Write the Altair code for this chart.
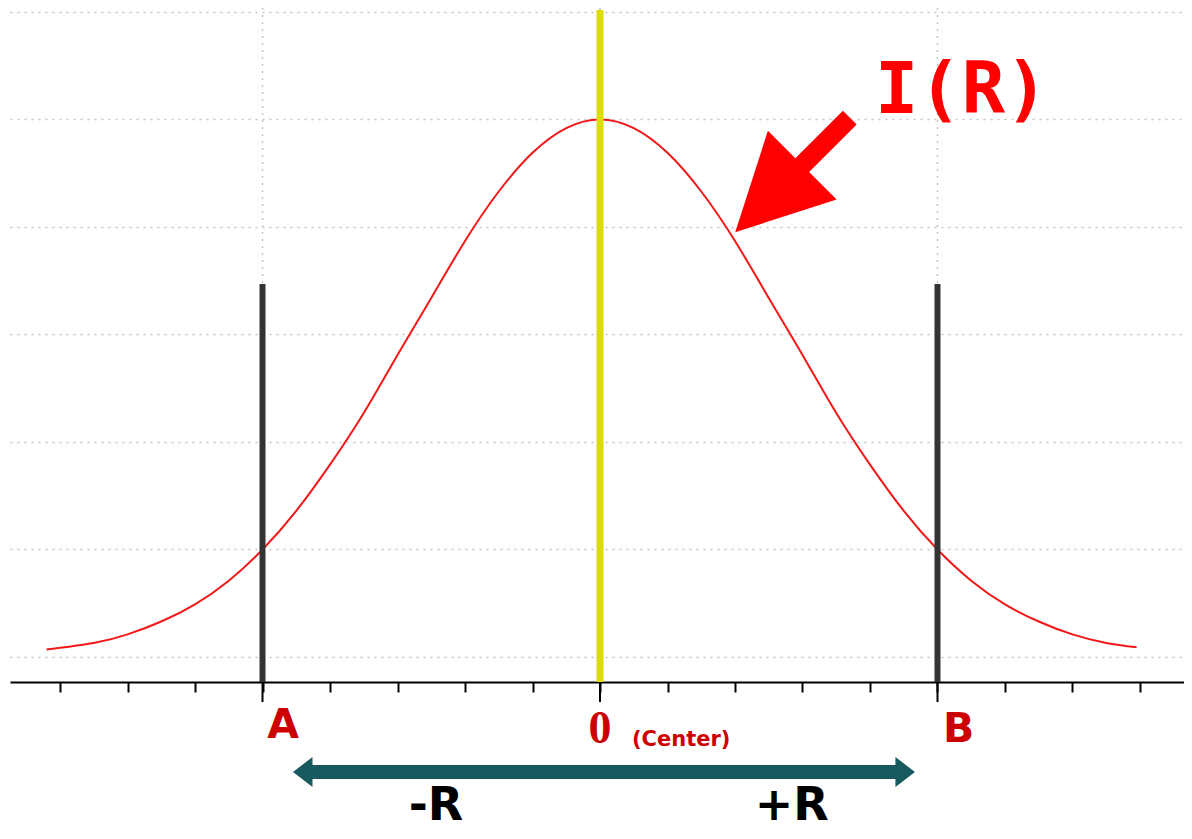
import altair as alt
import pandas as pd

# ---- data ----
curve_x = [-8.2, -7.5, -7.0, -6.5, -6.0, -5.5, -5.0, -4.5, -4.0, -3.5, -3.0, -2.5, -2.0,
           -1.5, -1.0, -0.5, 0.0, 0.5, 1.0, 1.5, 2.0, 2.5, 3.0, 3.5, 4.0, 4.5, 5.0,
           5.5, 6.0, 6.5, 7.0, 7.5, 7.95]
curve_y = [0.07, 0.13, 0.21, 0.33, 0.49, 0.71, 1.00, 1.36, 1.79, 2.27, 2.81, 3.34, 3.87,
           4.33, 4.69, 4.92, 5.00, 4.92, 4.69, 4.33, 3.87, 3.34, 2.81, 2.27, 1.79, 1.36, 1.00,
           0.71, 0.49, 0.33, 0.21, 0.13, 0.09]

tick_values = list(range(-8, 9))
major_ticks = [-5, 0, 5]
grid_y = [0, 1, 2, 3, 4, 5, 6]
bar_x = [-5, 5]
bar_top = [3.47, 3.47]

X_MIN, X_MAX = -8.741, 8.652
Y_MIN, Y_MAX = -0.2326, 6.037

W, H = 1174, 674

xs = alt.Scale(domain=[X_MIN, X_MAX], nice=False, zero=False)
ys = alt.Scale(domain=[Y_MIN, Y_MAX], nice=False, zero=False)

x_axis = alt.Axis(values=tick_values, tickSize=10, tickWidth=2, tickColor="black",
                  domainColor="black", domainWidth=2, labels=False, grid=False,
                  title=None, orient="bottom")
y_axis = alt.Axis(values=grid_y, grid=True, gridColor="#c4c4c4", gridDash=[2, 5],
                  gridWidth=1.5, labels=False, ticks=False, domain=False, title=None)


def X(field="x"):
    return alt.X(f"{field}:Q", scale=xs, axis=x_axis)


def Y(field="y"):
    return alt.Y(f"{field}:Q", scale=ys, axis=y_axis)


curve_df = pd.DataFrame({"x": curve_x, "y": curve_y})
curve = alt.Chart(curve_df).mark_line(color="#f21818", strokeWidth=2, interpolate="natural",
                                      clip=False).encode(x=X(), y=Y())

vgrid_df = pd.DataFrame({"x": major_ticks})
vgrid = alt.Chart(vgrid_df).mark_rule(color="#c4c4c4", strokeDash=[2, 5], strokeWidth=1.5).encode(x=X())

major_df = pd.DataFrame({"x": major_ticks, "y": [Y_MIN] * 3, "y2": [-0.419] * 3})
major = alt.Chart(major_df).mark_rule(color="black", strokeWidth=2, clip=False).encode(
    x=X(), y=Y(), y2="y2:Q")

bars_df = pd.DataFrame({"x": bar_x, "y": bar_top, "y2": [Y_MIN, Y_MIN]})
bars = alt.Chart(bars_df).mark_rule(color="#333333", strokeWidth=6).encode(
    x=X(), y=Y(), y2="y2:Q")

center_df = pd.DataFrame({"x": [0], "y": [6.018], "y2": [Y_MIN]})
center = alt.Chart(center_df).mark_rule(color="#dcdc00", strokeWidth=7).encode(
    x=X(), y=Y(), y2="y2:Q")

# red arrow pointing at the curve
arrow_shape = "M0,-1L0.6,0.17L0.12,0.17L0.12,1L-0.12,1L-0.12,0.17L-0.6,0.17Z"
arrow_df = pd.DataFrame({"x": [2.852], "y": [4.484]})
arrow = alt.Chart(arrow_df).mark_point(shape=arrow_shape, filled=True, size=26244, angle=225,
                                       color="#ff0000", opacity=1, strokeWidth=0).encode(
    x=X(), y=Y())

# teal double arrow
shaft_df = pd.DataFrame({"x": [-4.33], "x2": [4.44], "y": [-1.07]})
shaft = alt.Chart(shaft_df).mark_rule(color="#17595f", strokeWidth=14, clip=False).encode(
    x=X(), x2="x2:Q", y=Y())
left_head_df = pd.DataFrame({"x": [-4.326], "y": [-1.07]})
left_head = alt.Chart(left_head_df).mark_point(shape="M-1,0L0.3,-1L0.3,1Z", filled=True, size=900,
                                               color="#17595f", opacity=1, clip=False).encode(
    x=X(), y=Y())
right_head_df = pd.DataFrame({"x": [4.444], "y": [-1.07]})
right_head = alt.Chart(right_head_df).mark_point(shape="M1,0L-0.3,-1L-0.3,1Z", filled=True, size=900,
                                                 color="#17595f", opacity=1, clip=False).encode(
    x=X(), y=Y())


# texts
def text_layer(xv, yv, label, font, size, color, align="left", weight="bold"):
    df = pd.DataFrame({"x": [xv], "y": [yv], "t": [label]})
    return alt.Chart(df).mark_text(font=font, fontSize=size, fontWeight=weight, color=color,
                                   align=align, baseline="alphabetic", clip=False).encode(
        x=X(), y=Y(), text="t:N")


t_A = text_layer(-4.93, -0.753, "A", "DejaVu Sans", 41, "#cc0000")
t_B = text_layer(5.08, -0.79, "B", "DejaVu Sans", 41, "#cc0000")
t_0 = text_layer(0.0, -0.80, "0", "Liberation Serif", 46, "#cc0000", align="center")
t_c = text_layer(0.474, -0.83, "(Center)", "DejaVu Sans", 21, "#cc0000")
t_mR = text_layer(-2.43, -1.516, "-R", "DejaVu Sans", 46, "black", align="center")
t_pR = text_layer(2.84, -1.516, "+R", "DejaVu Sans", 46, "black", align="center")
t_IR = text_layer(4.074, 5.06, "I(R)", "DejaVu Sans Mono", 72, "#ff0000")

chart = alt.layer(
    vgrid, curve, bars, center, major, arrow, shaft, left_head, right_head,
    t_A, t_B, t_0, t_c, t_mR, t_pR, t_IR
).properties(
    width=W, height=H,
    padding={"left": 2, "top": 0, "right": 0, "bottom": 149},
    autosize=alt.AutoSizeParams(type="none"),
    background="white",
).configure_view(stroke=None)

chart.save("out.html", embed_options={"renderer": "svg", "actions": False})
